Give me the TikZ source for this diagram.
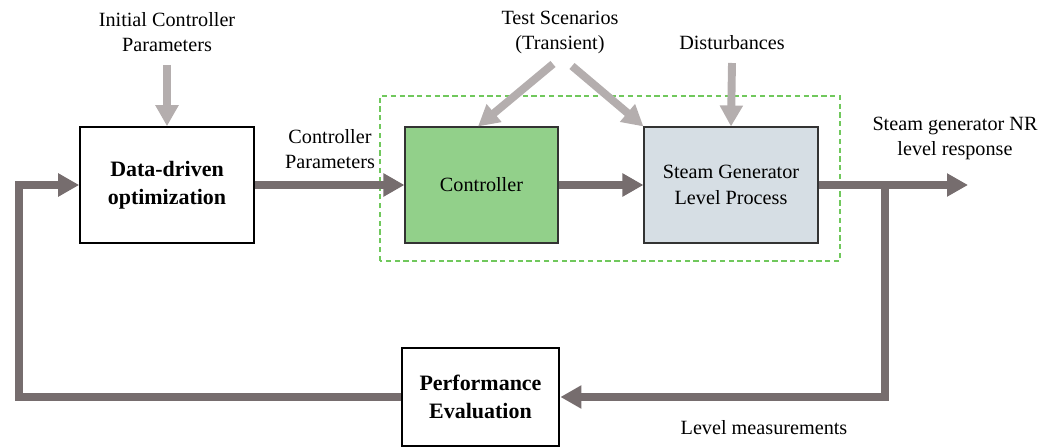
\documentclass[tikz,border=0pt]{standalone}
\usepackage{fontspec}
\setmainfont{Liberation Serif}
\usetikzlibrary{arrows.meta,positioning}

\definecolor{flowgray}{RGB}{118,109,110}
\definecolor{inputgray}{RGB}{180,174,174}
\definecolor{ctrlgreen}{RGB}{146,208,138}
\definecolor{procblue}{RGB}{214,222,228}
\definecolor{groupgreen}{RGB}{112,200,92}

\tikzset{
  boldbox/.style={draw=black, line width=0.9pt, fill=white, align=center,
    minimum width=3.48cm, minimum height=2.32cm,
    font=\fontsize{12.5}{16}\selectfont\bfseries},
  plainbox/.style={draw=black!80, line width=0.6pt, align=center,
    minimum width=3.48cm, minimum height=2.32cm,
    font=\fontsize{11.5}{14.5}\selectfont},
  tag/.style={align=center, inner sep=0pt, font=\fontsize{11.5}{14.2}\selectfont},
  flowarrow/.style={flowgray, line width=4.5pt,
    -{Triangle[width=0.44cm,length=0.42cm]}},
  flowline/.style={flowgray, line width=4.5pt},
  inputarrow/.style={inputgray, line width=4.5pt,
    -{Triangle[width=0.44cm,length=0.42cm]}}
}

\begin{document}
\begin{tikzpicture}
  \useasboundingbox (0,0) rectangle (21.26,8.94);

  % blocks
  \node[boldbox] (data) at (3.34,5.24) {Data-driven\\optimization};
  \node[plainbox, fill=ctrlgreen, minimum width=3.06cm] (ctrl) at (9.63,5.24) {Controller};
  \node[plainbox, fill=procblue] (sg) at (14.62,5.24) {Steam Generator\\Level Process};
  \node[boldbox, line width=1.6pt, minimum width=3.14cm, minimum height=1.96cm] (perf) at (9.61,1.0) {Performance\\Evaluation};

  \draw[groupgreen, line width=0.6pt, dash pattern=on 3pt off 2pt] (7.6,3.72) rectangle (16.8,7.02);

  % labels
  \node[tag] (initpar) at (3.34,8.29) {Initial Controller\\Parameters};
  \node[tag] (tests) at (11.2,8.29) {Test Scenarios\\(Transient)};
  \node[tag] (dist) at (14.64,8.08) {Disturbances};
  \node[tag] (ctrlpar) at (6.6,5.96) {Controller\\Parameters};
  \node[tag] (resp) at (19.1,6.17) {Steam generator NR\\level response};
  \node[tag] (meas) at (15.28,0.38) {Level measurements};

  \coordinate (out) at (19.36,5.24);
  \coordinate (branch) at (17.7,5.24);
  \coordinate (loop) at (0.38,1.0);

  % inputs
  \draw[inputarrow] (3.34,7.64) -- (data.north);
  \draw[inputarrow] (11.06,7.66) -- ([xshift=-0.07cm]ctrl.north);
  \draw[inputarrow] (11.44,7.62) -- (sg.north west);
  \draw[inputarrow] (14.64,7.68) -- (sg.north);

  % main path
  \draw[flowarrow] (data.east) -- (ctrl.west);
  \draw[flowarrow] (ctrl.east) -- (sg.west);
  \draw[flowarrow] (sg.east) -- (out);

  % feedback
  \draw[flowarrow] (branch) |- (perf.east);
  \draw[flowarrow] (perf.west) -- (loop) |- (data.west);
\end{tikzpicture}
\end{document}
